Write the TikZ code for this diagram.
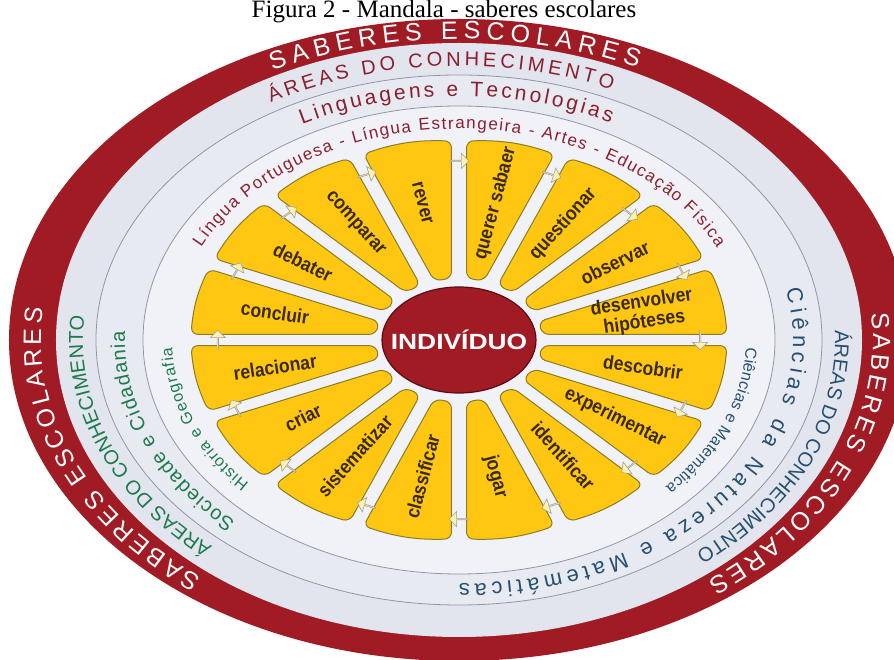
\documentclass[tikz,border=0pt]{standalone}
\usepackage{fontspec}
\setmainfont{Liberation Serif}
\setsansfont{Liberation Sans}
\newfontfamily\petalfont{Liberation Sans}[FakeStretch=0.9]
\usetikzlibrary{shapes.geometric,shapes.arrows,decorations.text}

\definecolor{ringred}{HTML}{A11B24}
\definecolor{hubline}{HTML}{5E0B12}
\definecolor{discbg}{HTML}{E2E5EE}
\definecolor{bandtwo}{HTML}{E8EAF2}
\definecolor{bandthree}{HTML}{F1F2F7}
\definecolor{ringline}{HTML}{8F97A5}
\definecolor{lingred}{HTML}{8C1F2E}
\definecolor{socgreen}{HTML}{1C7A4B}
\definecolor{cienblue}{HTML}{27506F}
\definecolor{petalfill}{HTML}{FFC712}
\definecolor{petalline}{HTML}{8D7B25}
\definecolor{petaltext}{HTML}{3A2A12}
\definecolor{arrowfill}{HTML}{FFF1B0}

% text along an elliptic arc: x radius, y radius, from, to, colour, text
\newcommand\ringtext[6]{%
  \path[decorate,decoration={text along path,text align={fit to path},
      text color=#5,text={#6}}]
    ({#1*cos(#3)},{#2*sin(#3)})
    arc[start angle=#3,end angle=#4,x radius=#1pt,y radius=#2pt];}

\begin{document}
\begin{tikzpicture}[x=1pt,y=1pt,
    petal/.style={draw=petalline,fill=petalfill,line width=1pt,rounded corners=7pt},
    word/.style={font=\petalfont\bfseries\fontsize{19.5}{20}\selectfont,
      text=petaltext,align=center,inner sep=1pt},
    flow/.style={single arrow,draw=gray!75,fill=arrowfill,line width=.6pt,
      minimum height=19pt,minimum width=15pt,single arrow head extend=3pt,inner sep=0pt},
    hub/.style={ellipse,draw=hubline,fill=ringred,line width=1.2pt,
      minimum width=154pt,minimum height=106pt},
    band/.style={draw=ringline,line width=.8pt}]
\useasboundingbox (-459,-320) rectangle (435,340);
\clip (-459,-320) rectangle (435,340);

% rings
\fill[ringred] (0,0) ellipse[x radius=450pt,y radius=321pt];
\fill[discbg] (0,0) ellipse[x radius=403pt,y radius=297pt];
\filldraw[band,fill=bandtwo] (0,0) ellipse[x radius=363pt,y radius=265pt];
\filldraw[band,fill=bandthree] (0,0) ellipse[x radius=316pt,y radius=234pt];

% petals
\begin{scope}[x=268pt,y=199pt]
  \foreach \a in {11.25,33.75,...,348.75}{
    \pgfmathsetmacro\ta{\a+11.25}
    \pgfmathsetmacro\tb{\a-11.25}
    \draw[petal] ({.31*cos(\ta)+.028*sin(\ta)},{.31*sin(\ta)-.028*cos(\ta)})
      -- ({cos(\ta)+.028*sin(\ta)},{sin(\ta)-.028*cos(\ta)})
      to[bend left=10] ({cos(\tb)-.028*sin(\tb)},{sin(\tb)+.028*cos(\tb)})
      -- ({.31*cos(\tb)-.028*sin(\tb)},{.31*sin(\tb)+.028*cos(\tb)}) -- cycle;
  }
\end{scope}

\foreach \g [count=\i] in {0,22.5,...,337.5}{
  \pgfmathsetmacro\rot{atan2(-199*cos(\g),268*sin(\g))}
  \node[flow,rotate=\rot] (f\i) at ({.9*268*cos(\g)},{.9*199*sin(\g)}) {};
}

\foreach \a/\w [count=\i] in {78.75/querer sabaer,56.25/questionar,33.75/observar,
    11.25/{desenvolver\\hipóteses},-11.25/descobrir,-33.75/experimentar,
    -56.25/identificar,-78.75/jogar,258.75/classificar,236.25/sistematizar,
    213.75/criar,191.25/relacionar,168.75/concluir,146.25/debater,
    123.75/comparar,101.25/rever}{
  \pgfmathsetmacro\rot{atan2(199*sin(\a),268*cos(\a))+(cos(\a)<0)*180}
  \node[word,rotate=\rot] (w\i) at ({.7*268*cos(\a)},{.7*199*sin(\a)}) {\w};
}

\node[hub,label={[font=\sffamily\bfseries\fontsize{22}{22}\selectfont,text=white]
  center:\scalebox{1.2}[1]{INDIVÍDUO}}] (ind) at (0,0) {};

% ring texts
\ringtext{418}{301}{116.5}{64.7}{white}{|\sffamily\fontsize{25}{25}\selectfont|SABERES ESCOLARES}
\ringtext{418}{301}{232}{174}{white}{|\sffamily\fontsize{25}{25}\selectfont|SABERES ESCOLARES}
\ringtext{414}{301}{5}{-53}{white}{|\sffamily\fontsize{25}{25}\selectfont|SABERES ESCOLARES}

\ringtext{376}{274}{120}{66}{lingred}{|\sffamily\fontsize{20}{20}\selectfont|ÁREAS DO CONHECIMENTO}
\ringtext{376}{274}{229}{175}{socgreen}{|\sffamily\fontsize{20}{20}\selectfont|ÁREAS DO CONHECIMENTO}
\ringtext{376}{274}{2}{-51}{cienblue}{|\sffamily\fontsize{20}{20}\selectfont|ÁREAS DO CONHECIMENTO}

\ringtext{334}{244}{118}{63}{lingred}{|\sffamily\fontsize{21}{21}\selectfont|Linguagens e Tecnologias}
\ringtext{334}{244}{228}{178}{socgreen}{|\sffamily\fontsize{20}{20}\selectfont|Sociedade e Cidadania}
\ringtext{334}{244}{12}{-90}{cienblue}{|\sffamily\fontsize{22}{22}\selectfont|Ciências da Natureza e Matemáticas}

\ringtext{287}{211}{154}{26}{lingred}{|\sffamily\fontsize{17}{17}\selectfont|Língua Portuguesa - Língua Estrangeira - Artes - Educação Física}
\ringtext{287}{211}{223}{182}{socgreen}{|\sffamily\fontsize{16}{16}\selectfont|História e Geografia}
\ringtext{287}{211}{-2}{-44}{cienblue}{|\sffamily\fontsize{16}{16}\selectfont|Ciências e Matemática}

\node[font=\fontsize{25}{25}\selectfont,anchor=base,inner sep=0pt] (title) at (-15,322.5)
  {Figura 2 - Mandala - saberes escolares};
\end{tikzpicture}
\end{document}
